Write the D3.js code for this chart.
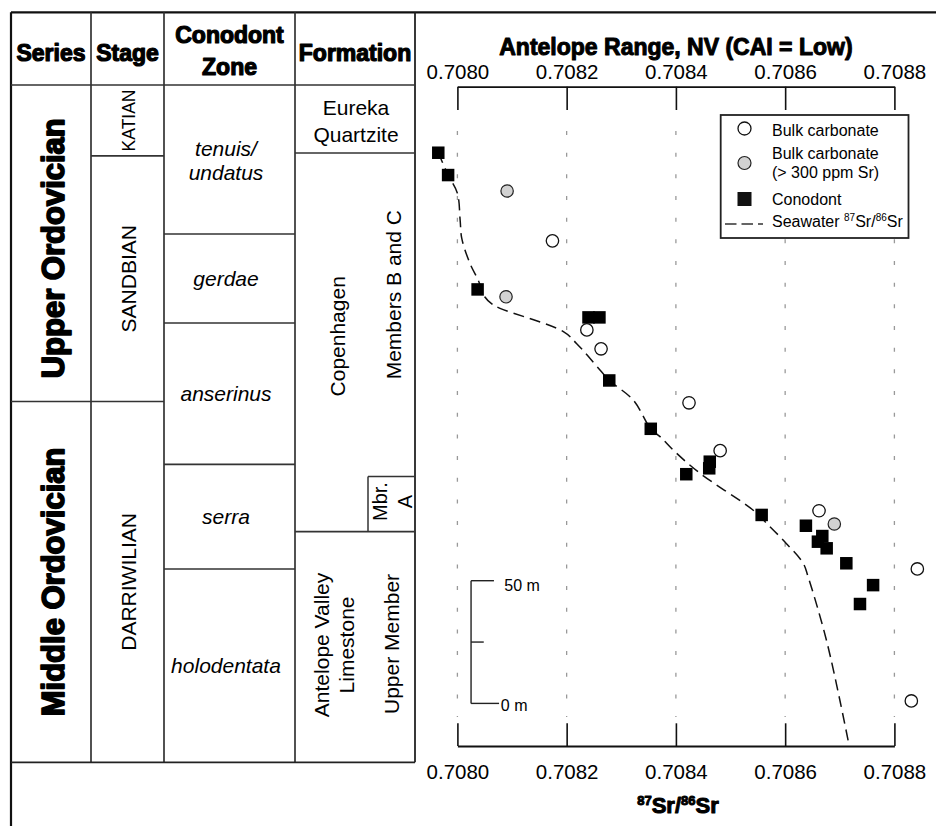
<!DOCTYPE html>
<html><head><meta charset="utf-8">
<script src="https://cdn.jsdelivr.net/npm/d3@7"></script>
<style>
body{margin:0;background:#fff}
svg{display:block}
text{font-family:"Liberation Sans",Arial,Helvetica,sans-serif;fill:#000}
</style>
</head><body>
<svg id="chart" width="936" height="826"></svg>
<script>
// ---------------- data ----------------
const xTicks = [0.7080, 0.7082, 0.7084, 0.7086, 0.7088];

// conodont 87Sr/86Sr vs stratigraphic height (m)
const conodontSr = [0.707965,0.707983,0.708037,0.708240,0.708260,0.708278,0.708354,0.708419,0.708462,0.708461,0.708557,0.708638,0.708668,0.708660,0.708676,0.708712,0.708761,0.708737];
const conodontH  = [224.4,215.3,168.7,157.3,157.3,131.6,111.9,93.4,98.5,95.8,76.8,72.4,68.2,65.9,63.2,57.1,48.2,40.5];

// bulk carbonate
const bulkSr = [0.708174,0.708237,0.708263,0.708424,0.708481,0.708662,0.708842,0.708831];
const bulkH  = [188.5,152.2,144.5,122.5,103.0,78.5,54.8,1.0];

// bulk carbonate (> 300 ppm Sr)
const bulkHiSr = [0.708091,0.708089,0.708690];
const bulkHiH  = [208.8,165.7,73.1];

// seawater curve
const seawaterSr = [0.707965,0.707983,0.708000,0.708005,0.708008,0.708023,0.708038,0.708050,0.708063,0.708078,0.708194,0.708218,0.708261,0.708278,0.708322,0.708354,0.708371,0.708398,0.708444,0.708541,0.708566,0.708602,0.708633,0.708642,0.708677,0.708717];
const seawaterH  = [224.4,215.3,207.9,197.0,189.5,179.3,172.5,165.7,162.8,161.0,151.5,146.7,135.9,131.6,123.6,111.9,108.7,102.6,93.8,78.8,73.4,65.2,57.1,51.6,24.5,-17.0];

// chronostratigraphy (heights in m)
const seriesLabels = ["Upper Ordovician", "Middle Ordovician"];
const seriesTop  = [252, 123.0];
const seriesBase = [123.0, -24];

const stageLabels = ["KATIAN", "SANDBIAN", "DARRIWILIAN"];
const stageTop  = [252, 223.1, 123.0];
const stageBase = [223.1, 123.0, -24];

const zoneLabels = [["tenuis/", "undatus"], ["gerdae"], ["anserinus"], ["serra"], ["holodentata"]];
const zoneTop  = [252, 191.3, 155.0, 97.4, 54.8];
const zoneBase = [191.3, 155.0, 97.4, 54.8, -24];

const formationLabels = [["Eureka", "Quartzite"], ["Copenhagen"], ["Antelope Valley", "Limestone"]];
const formationTop  = [252, 224.3, 70.0];
const formationBase = [224.3, 70.0, -24];

const memberLabels = [["Members B and C"], ["Mbr.", "A"], ["Upper Member"]];
const memberTop  = [224.3, 92.5, 70.0];
const memberBase = [92.5, 70.0, -24];

const headerLabels = [["Series"], ["Stage"], ["Conodont", "Zone"], ["Formation"]];

const legendLabels = ["Bulk carbonate", "Bulk carbonate|(> 300 ppm Sr)", "Conodont", "Seawater"];
const scaleBarValues = [0, 25, 50];

// ---------------- layout ----------------
const svg = d3.select("#chart");
const x = d3.scaleLinear().domain([0.7080, 0.7088]).range([457.4, 894.4]);
const y = d3.scaleLinear().domain([-24, 252]).range([762.3, 85]);
const colX = [11, 91, 164, 295, 415];
const memberX = 368;
const topY = 12.3, headBot = 85;
const font = '"Liberation Sans",Arial,Helvetica,sans-serif';

const lineCol = "#333";
function hline(x1, x2, yy, w, c) {
  svg.append("line").attr("x1", x1).attr("x2", x2).attr("y1", yy).attr("y2", yy)
    .attr("stroke", c || lineCol).attr("stroke-width", w || 1.6);
}
function vline(xx, y1, y2, w, c) {
  svg.append("line").attr("x1", xx).attr("x2", xx).attr("y1", y1).attr("y2", y2)
    .attr("stroke", c || lineCol).attr("stroke-width", w || 1.6);
}

// table frame
hline(colX[0], 936, topY, 2.2, "#111");
vline(colX[0], topY, 826, 2.2, "#111");
[1, 2, 3].forEach(i => vline(colX[i], topY, y(-24), 1.7));
vline(colX[4], topY, y(-24), 1.8, "#222");
hline(colX[0], colX[4], headBot, 1.7);
hline(colX[0], colX[4], y(-24), 1.8, "#222");

// internal boundaries
seriesBase.slice(0, -1).forEach(b => hline(colX[0], colX[1], y(b), 1.6));
stageBase.slice(0, -1).forEach(b => hline(colX[1], colX[2], y(b), 1.6));
zoneBase.slice(0, -1).forEach(b => hline(colX[2], colX[3], y(b), 1.6));
formationBase.slice(0, -1).forEach(b => hline(colX[3], colX[4], y(b), 1.6));
vline(memberX, y(memberTop[1]), y(memberBase[1]), 1.5);
hline(memberX, colX[4], y(memberTop[1]), 1.5);

// text helpers
function mtext(cx, cy, lines, opt) {
  const fs = opt.size, lh = opt.lh || fs * 1.25;
  const g = svg.append("g").attr("transform", `translate(${cx},${cy})` + (opt.rot ? " rotate(-90)" : ""));
  const t = g.append("text").attr("text-anchor", "middle")
    .style("font-size", fs + "px")
    .style("font-weight", opt.bold ? "bold" : "normal")
    .style("font-style", opt.italic ? "italic" : "normal");
  if (opt.stroke) t.attr("stroke", "#000").attr("stroke-width", opt.stroke).attr("stroke-linejoin", "round");
  const n = lines.length;
  lines.forEach((s, i) => {
    t.append("tspan").attr("x", 0)
      .attr("y", (i - (n - 1) / 2) * lh + fs * 0.355)
      .text(s);
  });
  return t;
}

// headers
const headCx = [51, 127.5, 229.5, 355];
headerLabels.forEach((l, i) => mtext(headCx[i], l.length > 1 ? 51 : 52.5, l, {size: 23, bold: true, stroke: 1.2, lh: 32}));

// series
seriesLabels.forEach((s, i) => {
  const cy = (y(seriesTop[i]) + y(seriesBase[i])) / 2 + (i === 0 ? 5 : 0);
  mtext(53, cy, [s], {size: 31, bold: true, stroke: 1.7, rot: true});
});
// stages
stageLabels.forEach((s, i) => {
  const cy = (y(stageTop[i]) + y(stageBase[i])) / 2;
  mtext(128.5, cy, [s], {size: i === 0 ? 17.5 : 21, rot: true});
});
// zones
zoneLabels.forEach((l, i) => {
  const cy = (y(zoneTop[i]) + y(zoneBase[i])) / 2 + (i === 0 ? 1.5 : 0);
  mtext(226, cy, l, {size: 21, italic: true, lh: 24});
});
// formations
mtext(356, (y(formationTop[0]) + y(formationBase[0])) / 2 + 2, formationLabels[0], {size: 21, lh: 27.7});
mtext(338, (y(formationTop[1]) + y(formationBase[1])) / 2 - 6, formationLabels[1], {size: 21, rot: true});
mtext(334, (y(formationTop[2]) + y(formationBase[2])) / 2 - 2, formationLabels[2], {size: 21, rot: true, lh: 25});
// members
mtext(394, (y(memberTop[0]) + y(memberBase[0])) / 2 - 20, memberLabels[0], {size: 21, rot: true});
mtext(392.5, (y(memberTop[1]) + y(memberBase[1])) / 2 - 2.5, memberLabels[1], {size: 20, rot: true, lh: 25});
mtext(392, (y(memberTop[2]) + y(memberBase[2])) / 2 - 3, memberLabels[2], {size: 21, rot: true});

// ---------------- plot ----------------
// title
mtext((x.range()[0] + x.range()[1]) / 2, 46.7, ["Antelope Range, NV (CAI = Low)"], {size: 23, bold: true, stroke: 1.0});

// grid
svg.append("g").selectAll("line").data(xTicks).join("line")
  .attr("x1", d => x(d)).attr("x2", d => x(d))
  .attr("y1", 131).attr("y2", 717)
  .attr("stroke", "#999").attr("stroke-width", 1.3)
  .attr("stroke-dasharray", "4 17.67");

// axes
const topAxisY = 86.7, botAxisY = 746;
const fmt = d3.format(".4f");
const gTop = svg.append("g").attr("transform", `translate(0,${topAxisY})`)
  .call(d3.axisTop(x).tickValues(xTicks).tickFormat(fmt).tickSizeInner(-23.3).tickSizeOuter(0).tickPadding(7.7));
const gBot = svg.append("g").attr("transform", `translate(0,${botAxisY})`)
  .call(d3.axisBottom(x).tickValues(xTicks).tickFormat(fmt).tickSizeInner(-22.7).tickSizeOuter(0).tickPadding(18));
[gTop, gBot].forEach(g => {
  g.select(".domain").attr("stroke", "#111").attr("stroke-width", 1.8);
  g.selectAll(".tick line").attr("stroke", "#111").attr("stroke-width", 1.6);
  g.selectAll(".tick text").style("font-size", "20.5px").style("font-family", font).attr("fill", "#111");
});

// x label
const xl = svg.append("text").attr("x", 678).attr("y", 812.5).attr("text-anchor", "middle")
  .style("font-size", "22px").style("font-weight", "bold")
  .attr("stroke", "#000").attr("stroke-width", 1.0).attr("stroke-linejoin", "round");
xl.append("tspan").style("font-size", "13px").attr("dy", -8).text("87");
xl.append("tspan").attr("dy", 8).text("Sr/");
xl.append("tspan").style("font-size", "13px").attr("dy", -8).text("86");
xl.append("tspan").attr("dy", 8).text("Sr");

// scale bar
const sbX = x(0.708025);
const sbY = d3.scaleLinear().domain([0, 50]).range([y(0), y(50)]);
vline(sbX, sbY(50), sbY(0), 1.4, "#222");
hline(sbX, sbX + 22.9, sbY(50), 1.4, "#222");
hline(sbX, sbX + 28, sbY(0), 1.4, "#222");
hline(sbX, sbX + 12.7, sbY(25), 1.4, "#222");
svg.append("text").attr("x", sbX + 33.2).attr("y", sbY(50) + 10).style("font-size", "16px").text(scaleBarValues[2] + " m");
svg.append("text").attr("x", sbX + 29.8).attr("y", sbY(0) + 8).style("font-size", "16px").text(scaleBarValues[0] + " m");

// seawater line
const line = d3.line().x((d, i) => x(seawaterSr[i])).y((d, i) => y(seawaterH[i])).curve(d3.curveCatmullRom.alpha(0.5));
svg.append("path").datum(seawaterSr).attr("d", line)
  .attr("fill", "none").attr("stroke", "#111").attr("stroke-width", 1.5)
  .attr("stroke-dasharray", "11 6");

// points
const sq = 12.5, r = 6.2;
svg.append("g").selectAll("rect").data(conodontSr).join("rect")
  .attr("x", (d) => x(d) - sq / 2).attr("y", (d, i) => y(conodontH[i]) - sq / 2)
  .attr("width", sq).attr("height", sq).attr("fill", "#000");
svg.append("g").selectAll("circle").data(bulkSr).join("circle")
  .attr("cx", d => x(d)).attr("cy", (d, i) => y(bulkH[i])).attr("r", r)
  .attr("fill", "#fff").attr("stroke", "#111").attr("stroke-width", 1.3);
svg.append("g").selectAll("circle").data(bulkHiSr).join("circle")
  .attr("cx", d => x(d)).attr("cy", (d, i) => y(bulkHiH[i])).attr("r", r)
  .attr("fill", "#d2d2d2").attr("stroke", "#222").attr("stroke-width", 1.2);

// legend
const lg = svg.append("g");
lg.append("rect").attr("x", 720.7).attr("y", 115).attr("width", 187.8).attr("height", 123)
  .attr("fill", "#fff").attr("stroke", "#222").attr("stroke-width", 1.8);
const lx = 744.5, tx = 772;
lg.append("circle").attr("cx", lx).attr("cy", 128.5).attr("r", 6.5).attr("fill", "#fff").attr("stroke", "#111").attr("stroke-width", 1.3);
lg.append("circle").attr("cx", lx).attr("cy", 163).attr("r", 6.5).attr("fill", "#d2d2d2").attr("stroke", "#222").attr("stroke-width", 1.2);
lg.append("rect").attr("x", lx - 7).attr("y", 199 - 7).attr("width", 14).attr("height", 14).attr("fill", "#111");
lg.append("line").attr("x1", 725).attr("x2", 763).attr("y1", 224).attr("y2", 224)
  .attr("stroke", "#333").attr("stroke-width", 1.5).attr("stroke-dasharray", "11.5 5");
const lt = (yy, s) => lg.append("text").attr("x", tx).attr("y", yy).style("font-size", "16px").text(s);
lt(136.3, legendLabels[0]);
const two = legendLabels[1].split("|");
lt(158.8, two[0]); lt(177.8, two[1]);
lt(204.8, legendLabels[2]);
const st = lg.append("text").attr("x", tx).attr("y", 226.8).style("font-size", "16px");
st.append("tspan").text(legendLabels[3] + " ");
st.append("tspan").style("font-size", "10px").attr("dy", -6).text("87");
st.append("tspan").attr("dy", 6).text("Sr/");
st.append("tspan").style("font-size", "10px").attr("dy", -6).text("86");
st.append("tspan").attr("dy", 6).text("Sr");
</script>
</body></html>
